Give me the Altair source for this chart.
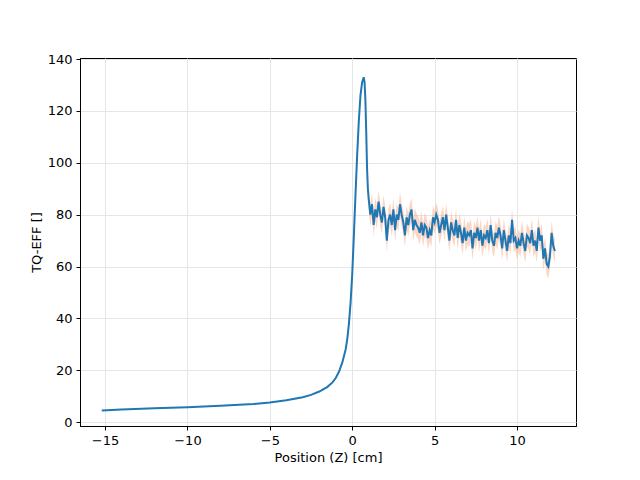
import altair as alt
import pandas as pd

x_smooth = [-15.2,-14,-12,-10,-8,-6,-5,-4,-3,-2.5,-2,-1.5,-1.2,-1,-0.8,-0.6,-0.4,-0.3,-0.2,-0.1,0,0.1,0.2,0.3,0.4,0.5,0.6,0.7,0.75,0.8,0.85,0.9,0.95]
y_smooth = [4.5,4.9,5.3,5.7,6.3,7.0,7.6,8.4,9.6,10.5,11.8,13.6,15.3,17,19.5,23,28,32,38,46,57,72,88,103,116,126,131,133,131,124,112,98,90]
y_noisy = [86,80,84,76,82,79,85,80,77,83,79,
           70,78,80,76,82,74,80,78,84,80,
           77,72,79,76,80,82,74,78,76,75,
           73,77,72,76,75,71,74,72,79,77,
           80,78,73,76,79,74,80,75,70,77,
           74,72,78,71,76,73,69,75,70,73,
           72,74,67,73,71,75,70,74,68,72,
           71,74,69,76,70,68,73,71,75,72,
           67,74,70,66,72,69,78,70,71,67,
           70,68,73,69,66,72,71,69,74,68,
           70,66,75,70,72,63,67,61,60,64,73,68,66]
x_noisy = [round(1.0 + 0.1 * i, 2) for i in range(len(y_noisy))]
band_err = 4.5

line_df = pd.DataFrame({"x": x_smooth + x_noisy, "y": y_smooth + y_noisy})
band_df = pd.DataFrame({"x": x_noisy,
                        "lo": [v - band_err for v in y_noisy],
                        "hi": [v + band_err for v in y_noisy]})

xs = alt.Scale(domain=[-16.52, 13.58], nice=False, zero=False)
ys = alt.Scale(domain=[-1.5, 140.4], nice=False, zero=False)
xa = alt.Axis(values=[-15, -10, -5, 0, 5, 10], title="Position (Z) [cm]", format="d")
ya = alt.Axis(values=list(range(0, 141, 20)), title="TQ-EFF []")

band = alt.Chart(band_df).mark_area(color="#f4a582", opacity=0.45).encode(
    x=alt.X("x:Q", scale=xs, axis=xa), y=alt.Y("lo:Q", scale=ys, axis=ya), y2="hi:Q")
line = alt.Chart(line_df).mark_line(color="#1f77b4", strokeWidth=2).encode(
    x=alt.X("x:Q", scale=xs, axis=xa), y=alt.Y("y:Q", scale=ys, axis=ya))

chart = (band + line).properties(
    width=496, height=368,
    autosize=alt.AutoSizeParams(type="none"),
    padding={"left": 72, "top": 50, "right": 56, "bottom": 46},
).configure_view(stroke="black", strokeWidth=1).configure_axis(
    grid=True, gridColor="#e6e6e6", domain=True, domainColor="black", tickColor="black", tickSize=4,
    labelFont="DejaVu Sans", titleFont="DejaVu Sans", labelFontSize=13, titleFontSize=13,
    titleFontWeight="normal", labelColor="black", titleColor="black", labelPadding=4,
)
chart.save("out.html", embed_options={"renderer": "svg", "actions": False})
